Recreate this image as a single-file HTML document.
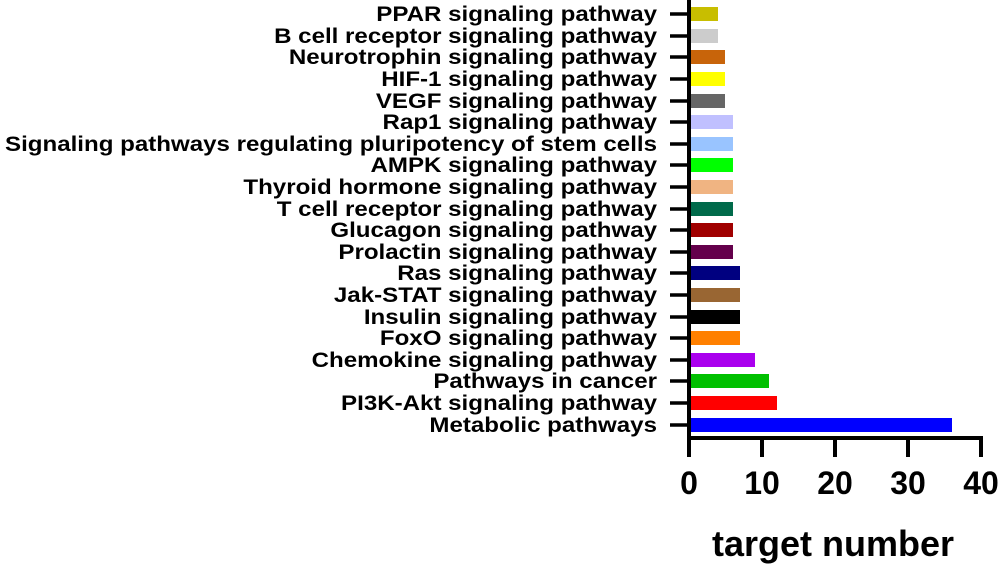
<!DOCTYPE html>
<html><head><meta charset="utf-8"><style>
html,body{margin:0;padding:0;background:#fff;}
svg{display:block;}
text{font-family:"Liberation Sans",Arial,sans-serif;font-weight:bold;fill:#000;}
</style></head><body>
<svg width="1003" height="568" viewBox="0 0 1003 568" xmlns="http://www.w3.org/2000/svg">
<g font-size="21" text-anchor="end" transform="translate(657,0) scale(1.148,1)">
<text x="0" y="21">PPAR signaling pathway</text>
<text x="0" y="43">B cell receptor signaling pathway</text>
<text x="0" y="64">Neurotrophin signaling pathway</text>
<text x="0" y="86">HIF-1 signaling pathway</text>
<text x="0" y="108">VEGF signaling pathway</text>
<text x="0" y="129">Rap1 signaling pathway</text>
<text x="0" y="151">Signaling pathways regulating pluripotency of stem cells</text>
<text x="0" y="172">AMPK signaling pathway</text>
<text x="0" y="194">Thyroid hormone signaling pathway</text>
<text x="0" y="216">T cell receptor signaling pathway</text>
<text x="0" y="237">Glucagon signaling pathway</text>
<text x="0" y="259">Prolactin signaling pathway</text>
<text x="0" y="280">Ras signaling pathway</text>
<text x="0" y="302">Jak-STAT signaling pathway</text>
<text x="0" y="324">Insulin signaling pathway</text>
<text x="0" y="345">FoxO signaling pathway</text>
<text x="0" y="367">Chemokine signaling pathway</text>
<text x="0" y="388">Pathways in cancer</text>
<text x="0" y="410">PI3K-Akt signaling pathway</text>
<text x="0" y="432">Metabolic pathways</text>
</g>
<g>
<rect x="690" y="7" width="28" height="14" fill="#c8be00"/>
<rect x="690" y="29" width="28" height="14" fill="#cccccc"/>
<rect x="690" y="50" width="35" height="14" fill="#c8640a"/>
<rect x="690" y="72" width="35" height="14" fill="#ffff00"/>
<rect x="690" y="94" width="35" height="14" fill="#666666"/>
<rect x="690" y="115" width="43" height="14" fill="#c0c0ff"/>
<rect x="690" y="137" width="43" height="14" fill="#99c4ff"/>
<rect x="690" y="158" width="43" height="14" fill="#00ff00"/>
<rect x="690" y="180" width="43" height="14" fill="#f0b482"/>
<rect x="690" y="202" width="43" height="14" fill="#006a4a"/>
<rect x="690" y="223" width="43" height="14" fill="#a00000"/>
<rect x="690" y="245" width="43" height="14" fill="#64004b"/>
<rect x="690" y="266" width="50" height="14" fill="#000080"/>
<rect x="690" y="288" width="50" height="14" fill="#996633"/>
<rect x="690" y="310" width="50" height="14" fill="#000000"/>
<rect x="690" y="331" width="50" height="14" fill="#ff8000"/>
<rect x="690" y="353" width="65" height="14" fill="#aa00ee"/>
<rect x="690" y="374" width="79" height="14" fill="#00c000"/>
<rect x="690" y="396" width="87" height="14" fill="#ff0000"/>
<rect x="690" y="418" width="262" height="14" fill="#0000ff"/>
</g>
<g stroke="#000" stroke-width="4">
<line x1="689" y1="0" x2="689" y2="440"/>
<line x1="687" y1="438" x2="983" y2="438"/>
<line x1="689" y1="436" x2="689" y2="457"/>
<line x1="762" y1="436" x2="762" y2="457"/>
<line x1="835" y1="436" x2="835" y2="457"/>
<line x1="908" y1="436" x2="908" y2="457"/>
<line x1="981" y1="436" x2="981" y2="457"/>
</g>
<g stroke="#000" stroke-width="3.5">
<line x1="670" y1="14" x2="689" y2="14"/>
<line x1="670" y1="36" x2="689" y2="36"/>
<line x1="670" y1="57" x2="689" y2="57"/>
<line x1="670" y1="79" x2="689" y2="79"/>
<line x1="670" y1="101" x2="689" y2="101"/>
<line x1="670" y1="122" x2="689" y2="122"/>
<line x1="670" y1="144" x2="689" y2="144"/>
<line x1="670" y1="165" x2="689" y2="165"/>
<line x1="670" y1="187" x2="689" y2="187"/>
<line x1="670" y1="209" x2="689" y2="209"/>
<line x1="670" y1="230" x2="689" y2="230"/>
<line x1="670" y1="252" x2="689" y2="252"/>
<line x1="670" y1="273" x2="689" y2="273"/>
<line x1="670" y1="295" x2="689" y2="295"/>
<line x1="670" y1="317" x2="689" y2="317"/>
<line x1="670" y1="338" x2="689" y2="338"/>
<line x1="670" y1="360" x2="689" y2="360"/>
<line x1="670" y1="381" x2="689" y2="381"/>
<line x1="670" y1="403" x2="689" y2="403"/>
<line x1="670" y1="425" x2="689" y2="425"/>
</g>
<g font-size="32" text-anchor="middle">
<text x="689" y="494">0</text>
<text x="762" y="494">10</text>
<text x="835" y="494">20</text>
<text x="908" y="494">30</text>
<text x="981" y="494">40</text>
</g>
<text x="833" y="556" font-size="36" text-anchor="middle">target number</text>
</svg>
</body></html>
